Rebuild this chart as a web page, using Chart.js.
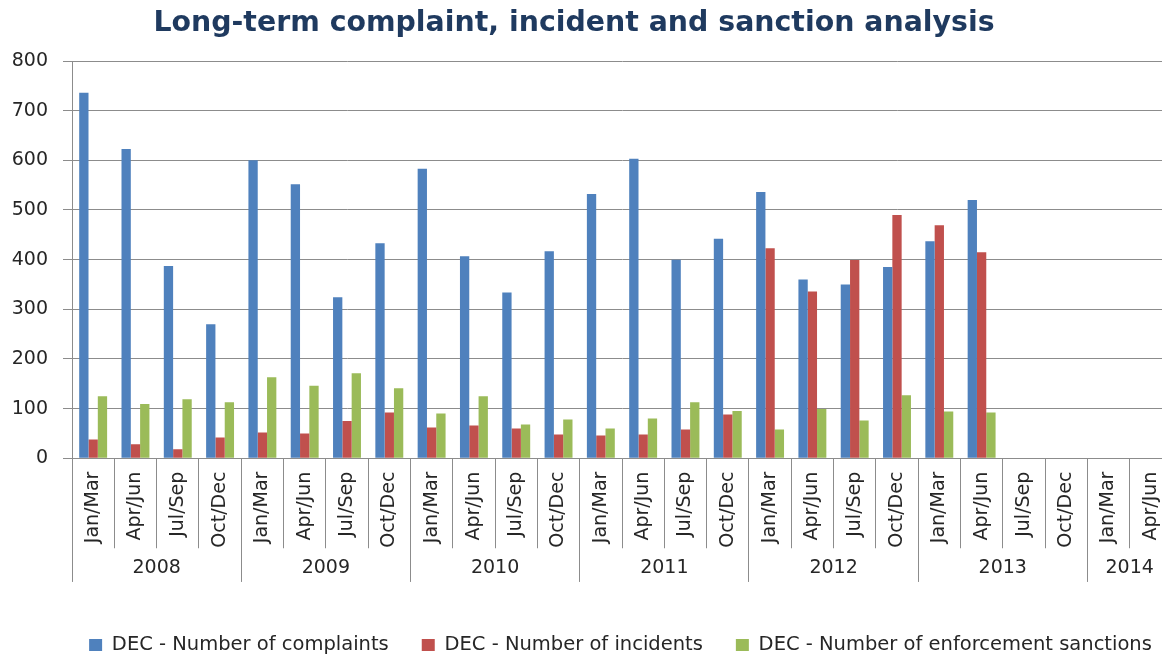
<!DOCTYPE html>
<html>
<head>
<meta charset="utf-8">
<title>Long-term complaint, incident and sanction analysis</title>
<script src="https://cdn.jsdelivr.net/npm/chart.js@4.4.1/dist/chart.umd.min.js"></script>
<style>
    html, body { margin: 0; padding: 0; overflow: hidden; background: #fff; }
    #wrap { position: relative; width: 1241px; height: 657px; }
    #title {
        position: absolute; left: 0; top: 8px; width: 1148px;
        text-align: center; font: bold 28.4px/28px "DejaVu Sans"; color: #1f3a5f;
    }
</style>
</head>
<body>
<div id="wrap">
    <canvas id="chart"></canvas>
    <div id="title">Long-term complaint, incident and sanction analysis</div>
</div>
<script>
var quarters = [
    'Jan/Mar', 'Apr/Jun', 'Jul/Sep', 'Oct/Dec',
    'Jan/Mar', 'Apr/Jun', 'Jul/Sep', 'Oct/Dec',
    'Jan/Mar', 'Apr/Jun', 'Jul/Sep', 'Oct/Dec',
    'Jan/Mar', 'Apr/Jun', 'Jul/Sep', 'Oct/Dec',
    'Jan/Mar', 'Apr/Jun', 'Jul/Sep', 'Oct/Dec',
    'Jan/Mar', 'Apr/Jun', 'Jul/Sep', 'Oct/Dec',
    'Jan/Mar', 'Apr/Jun'
];
var years = ['2008', '2009', '2010', '2011', '2012', '2013', '2014'];
var quartersPerYear = [4, 4, 4, 4, 4, 4, 2];

var complaints = [736, 623, 387, 270, 600, 552, 324, 433, 583, 407, 334, 417, 532, 603, 400, 442,
                  536, 360, 350, 385, 437, 520, null, null, null, null];
var incidents = [38, 28, 18, 42, 52, 50, 75, 92, 62, 66, 60, 48, 46, 48, 58, 88,
                 423, 336, 399, 490, 469, 415, null, null, null, null];
var sanctions = [125, 109, 119, 113, 163, 146, 171, 141, 90, 125, 68, 78, 60, 80, 113, 95,
                 58, 99, 76, 127, 94, 92, null, null, null, null];

var gridGray = '#8c8c8c';
var textColor = '#262626';

// second row of the x axis: one label per year, placed on the quarter just left of the
// year's middle and shifted half a slot right; separators at the year edges
var yearRow = quarters.map(function () { return ''; });
var yearEdges = {0: true};
var pos = 0;
years.forEach(function (y, i) {
    yearRow[pos + quartersPerYear[i] / 2 - 1] = y;
    pos += quartersPerYear[i];
    yearEdges[pos] = true;
});

Chart.defaults.font.family = '"DejaVu Sans"';
Chart.defaults.color = textColor;

new Chart(document.getElementById('chart').getContext('2d'), {
    type: 'bar',
    data: {
        labels: quarters,
        datasets: [{
            label: 'DEC - Number of complaints',
            backgroundColor: '#4f81bd',
            data: complaints
        }, {
            label: 'DEC - Number of incidents',
            backgroundColor: '#c0504d',
            data: incidents
        }, {
            label: 'DEC - Number of enforcement sanctions',
            backgroundColor: '#9bbb59',
            data: sanctions
        }]
    },
    options: {
        responsive: true,
        maintainAspectRatio: false,
        animation: false,
        categoryPercentage: 0.66,
        barPercentage: 1.0,
        layout: {
            padding: { left: 0, top: 61, right: 0, bottom: -7.75 }
        },
        scales: {
            x: {
                type: 'category',
                position: 'bottom',
                weight: 0,
                offset: true,
                grid: { offset: true, drawOnChartArea: false, tickLength: 90, color: gridGray },
                border: { color: gridGray },
                ticks: {
                    autoSkip: false,
                    minRotation: 90,
                    maxRotation: 90,
                    padding: -76.6,
                    color: textColor,
                    font: { size: 19 }
                },
                afterFit: function (s) {
                    s.height = 90;
                    s.paddingLeft = 0;
                    s.paddingRight = 0;
                }
            },
            years: {
                type: 'category',
                labels: yearRow,
                position: 'bottom',
                weight: 1,
                offset: true,
                grid: {
                    offset: true,
                    drawOnChartArea: false,
                    tickLength: 33.7,
                    tickColor: function (ctx) {
                        return yearEdges[ctx.index] ? gridGray : 'rgba(0,0,0,0)';
                    }
                },
                border: { display: false },
                ticks: {
                    autoSkip: false,
                    maxRotation: 0,
                    labelOffset: 21.17,
                    padding: -25,
                    color: textColor,
                    font: { size: 19 }
                },
                afterFit: function (s) {
                    s.height = 54;
                    s.paddingLeft = 0;
                    s.paddingRight = 0;
                }
            },
            y: {
                min: 0,
                max: 800,
                ticks: { stepSize: 100, padding: 15, color: textColor, font: { size: 19 } },
                grid: { color: gridGray, tickLength: 9 },
                border: { color: gridGray },
                afterFit: function (s) {
                    s.width = 72;
                    s.paddingTop = 0;
                    s.paddingBottom = 0;
                }
            },
            spacer: {
                type: 'linear',
                position: 'right',
                min: 0,
                max: 1,
                grid: { display: false },
                border: { display: false },
                ticks: { display: false },
                afterFit: function (s) {
                    s.width = 69;
                    s.paddingTop = 0;
                    s.paddingBottom = 0;
                }
            }
        },
        plugins: {
            legend: {
                position: 'bottom',
                align: 'center',
                fullSize: true,
                labels: {
                    boxWidth: 13,
                    boxHeight: 12,
                    padding: 33,
                    color: textColor,
                    font: { size: 19.5 }
                }
            },
            tooltip: { enabled: false }
        }
    }
});
</script>
</body>
</html>
